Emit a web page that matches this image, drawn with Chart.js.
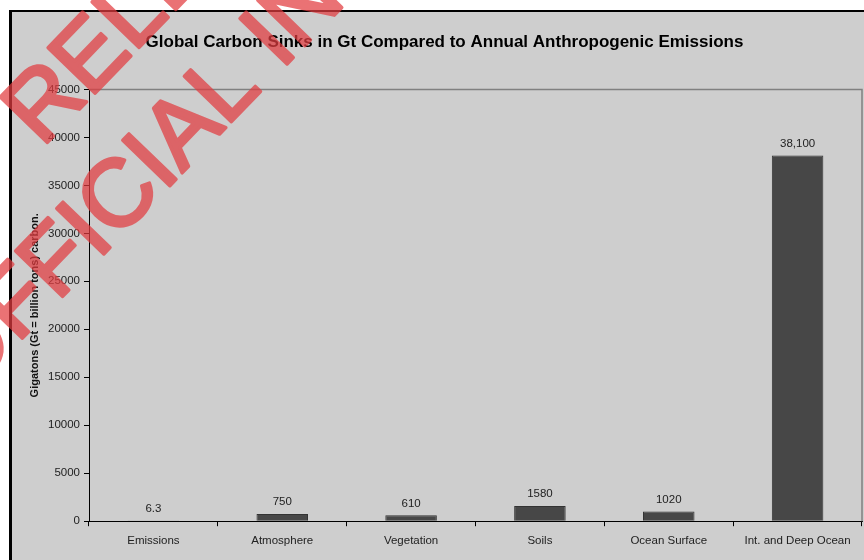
<!DOCTYPE html>
<html>
<head>
<meta charset="utf-8">
<script src="https://cdn.jsdelivr.net/npm/chart.js@4.4.1/dist/chart.umd.min.js"></script>
<style>
html, body { margin: 0; padding: 0; overflow: hidden; background: #fff; }
#c { position: absolute; left: 0; top: 0; }
</style>
</head>
<body>
<canvas id="c" width="888" height="560"></canvas>
<script>
// data
const categories = ['Emissions', 'Atmosphere', 'Vegetation', 'Soils', 'Ocean Surface', 'Int. and Deep Ocean']
const carbonGt = [6.3, 750, 610, 1580, 1020, 38100]
const valueLabels = ['6.3', '750', '610', '1580', '1020', '38,100']
const yMin = 0
const yMax = 45000
const yStep = 5000

const FONT = '"Liberation Sans", Arial, sans-serif'

//背景 + 黑框
const boxBg = {
    id: 'boxBg',
    beforeDraw(chart) {
        const ctx = chart.ctx
        ctx.save()
        ctx.fillStyle = '#fff'
        ctx.fillRect(0, 0, chart.width, chart.height)
        ctx.fillStyle = '#000'
        ctx.fillRect(9, 10, chart.width, chart.height)
        ctx.fillStyle = '#cecece'
        ctx.fillRect(12, 12, chart.width, chart.height)
        ctx.restore()
    }
}

// plot area frame, top and right (gray)
const plotFrame = {
    id: 'plotFrame',
    beforeDatasetsDraw(chart) {
        const { ctx, chartArea: a } = chart
        ctx.save()
        ctx.strokeStyle = '#808080'
        ctx.lineWidth = 1.5
        ctx.beginPath()
        ctx.moveTo(a.left, a.top)
        ctx.lineTo(a.right, a.top)
        ctx.lineTo(a.right, a.bottom)
        ctx.stroke()
        ctx.restore()
    }
}

// value labels above bars
const barLabels = {
    id: 'barLabels',
    afterDatasetsDraw(chart) {
        const ctx = chart.ctx
        const meta = chart.getDatasetMeta(0)
        ctx.save()
        ctx.font = '11.5px ' + FONT
        ctx.fillStyle = '#222'
        ctx.textAlign = 'center'
        ctx.textBaseline = 'middle'
        meta.data.forEach((bar, i) => {
            ctx.fillText(valueLabels[i], bar.x, bar.y - 12)
        })
        ctx.restore()
    }
}

// red stamp over everything
const stamp = {
    id: 'stamp',
    afterDraw(chart) {
        const off = document.createElement('canvas')
        off.width = chart.width
        off.height = chart.height
        const o = off.getContext('2d')
        o.translate(42, 148)
        o.rotate(-46 * Math.PI / 180)
        o.font = '95px ' + FONT
        o.textAlign = 'left'
        o.textBaseline = 'alphabetic'
        o.fillStyle = 'rgb(226, 60, 64)'
        o.strokeStyle = 'rgb(226, 60, 64)'
        o.lineWidth = 3.5
        o.lineJoin = 'round'
        const lines = [['RELEASED UNDER THE', 0, 0], ['OFFICIAL INFORMATION ACT', -232, 118]]
        for (const [t, x, y] of lines) {
            o.fillText(t, x, y)
            o.strokeText(t, x, y)
        }
        const ctx = chart.ctx
        ctx.save()
        ctx.globalAlpha = 0.72
        ctx.drawImage(off, 0, 0)
        ctx.restore()
    }
}

const config = {
    type: 'bar',
    data: {
        labels: categories,
        datasets: [{
            data: carbonGt,
            backgroundColor: '#474747',
            borderColor: '#333',
            borderWidth: 1,
            barPercentage: 0.4,
            categoryPercentage: 1.0
        }]
    },
    options: {
        responsive: false,
        animation: false,
        layout: { padding: { left: 27, right: 26, top: 0, bottom: 4 } },
        plugins: {
            legend: { display: false },
            tooltip: { enabled: false },
            title: {
                display: true,
                text: 'Global Carbon Sinks in Gt Compared to Annual Anthropogenic Emissions',
                color: '#000',
                font: { family: FONT, size: 17, weight: 'bold' },
                padding: { top: 32, bottom: 37 }
            }
        },
        scales: {
            x: {
                grid: { drawOnChartArea: false, tickLength: 5, color: '#000', offset: true },
                border: { color: '#000', width: 1 },
                ticks: {
                    color: '#222',
                    font: { family: FONT, size: 11.5 },
                    padding: 8,
                    maxRotation: 0,
                    autoSkip: false
                }
            },
            y: {
                min: yMin,
                max: yMax,
                afterFit: s => { s.width = 62 },
                grid: { drawOnChartArea: false, tickLength: 5, color: '#000' },
                border: { color: '#000', width: 1 },
                ticks: {
                    stepSize: yStep,
                    color: '#222',
                    font: { family: FONT, size: 11.5 },
                    padding: 4,
                    callback: v => String(v)
                },
                title: {
                    display: true,
                    text: 'Gigatons (Gt = billion tons) carbon.',
                    color: '#111',
                    font: { family: FONT, size: 11, weight: 'bold' },
                    padding: { top: 1.5, bottom: 0 }
                }
            }
        }
    },
    plugins: [boxBg, plotFrame, barLabels, stamp]
}

new Chart(document.getElementById('c'), config)
</script>
</body>
</html>
